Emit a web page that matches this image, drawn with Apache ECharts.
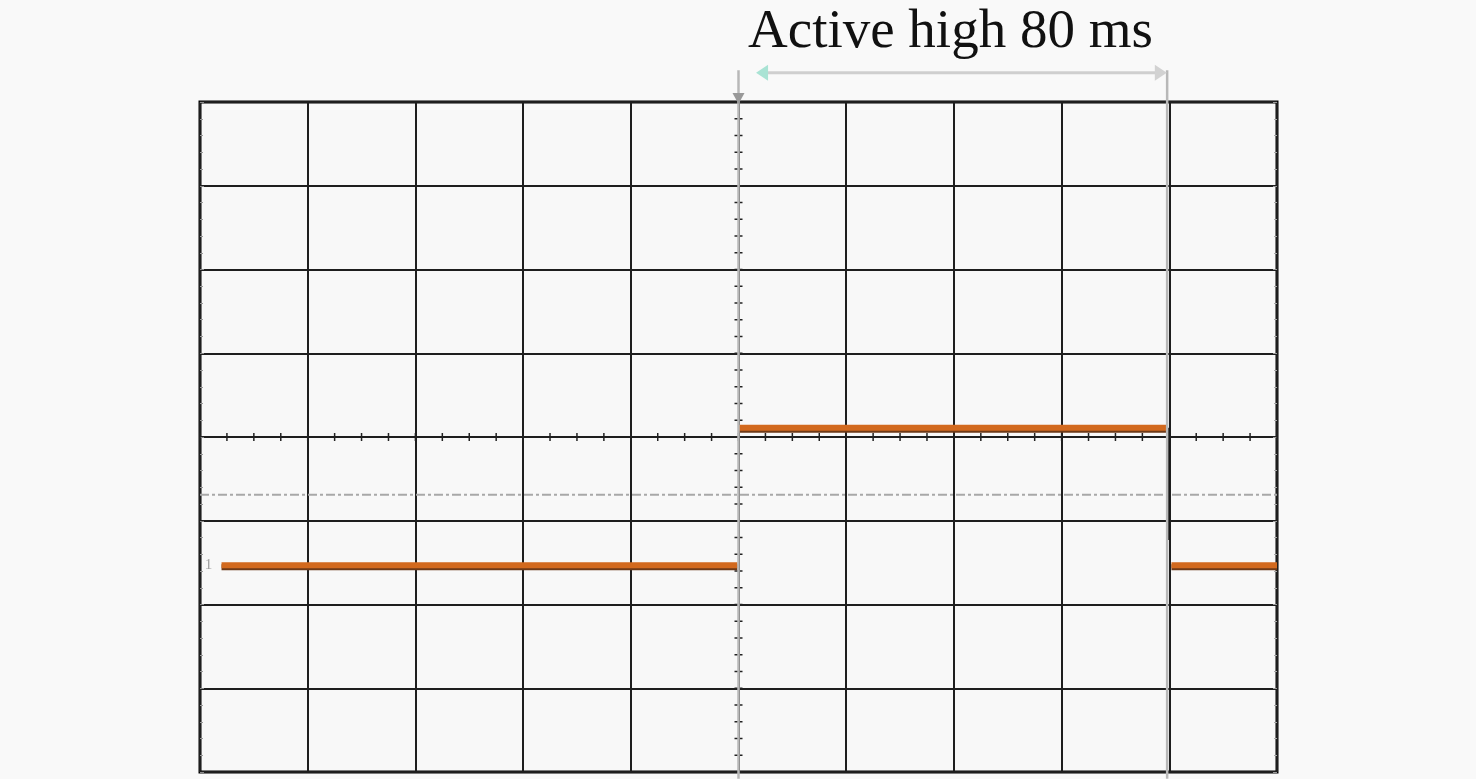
<!DOCTYPE html>
<html>
<head>
<meta charset="utf-8">
<script src="https://cdn.jsdelivr.net/npm/echarts@6/dist/echarts.min.js"></script>
<style>html,body{margin:0;padding:0;background:#f9f9f9;}#c{width:1476px;height:779px;}</style>
</head>
<body>
<div id="c"></div>
<script>
// Axis ranges in divisions (10 horizontal x 8 vertical)
const xRange = [0, 10];
const yRange = [-4, 4];
// Signal levels (divisions)
const lowLevel = -1.53;
const highLevel = 0.11;
const edgeBottom = -1.23;
// Signal segments (x in divisions)
const lowSeg1 = [[0.2, lowLevel], [4.99, lowLevel]];
const highSeg = [[5.0, highLevel], [8.98, highLevel]];
const fallEdge = [[8.99, highLevel], [8.99, edgeBottom]];
const lowSeg2 = [[9.02, lowLevel], [10, lowLevel]];
// Reference (dash-dot) level
const refLevel = -0.69;
// Cursors
const cursorX = [5.0, 8.98];
const cursorTop = 4.38;
const cursorBottom = -4.08;
const arrowY = 4.35;
const arrowSpan = [5.2, 8.94];
const titleText = 'Active high 80 ms';
const channelLabel = '1';

// center graticule minor tick positions
const hTicks = [];
for (let v = xRange[0]; v <= xRange[1] + 1e-9; v += 0.25) hTicks.push([+v.toFixed(2), 0, 0]);
const vTicks = [];
for (let v = yRange[0]; v <= yRange[1] + 1e-9; v += 0.2) vTicks.push([5, +v.toFixed(2), 1]);

const chart = echarts.init(document.getElementById('c'));
const orange = '#d2691e';
const sigStyle = {color: orange, width: 6, shadowColor: '#6e3a18', shadowOffsetY: 2, shadowBlur: 0};

function seg(data, style, z) {
  return {type: 'line', data: data, symbol: 'none', lineStyle: style, z: z || 5, silent: true, animation: false};
}

chart.setOption({
  backgroundColor: '#f9f9f9',
  animation: false,
  title: {
    text: titleText, left: 743, top: 0,
    textStyle: {fontFamily: 'Liberation Serif', fontSize: 55, fontWeight: 'normal', color: '#111'}
  },
  grid: {left: 200, right: 199, top: 102, bottom: 7, show: true, borderColor: '#000', borderWidth: 3, backgroundColor: '#f8f8f8'},
  xAxis: [{
    type: 'value', min: xRange[0], max: xRange[1], interval: 1,
    axisLine: {show: false}, axisLabel: {show: false},
    axisTick: {show: false},
    splitLine: {show: true, lineStyle: {color: '#1e1e1e', width: 2}}
  }],
  yAxis: [{
    type: 'value', min: yRange[0], max: yRange[1], interval: 1, position: 'left',
    axisLine: {show: false}, axisLabel: {show: false},
    axisTick: {show: true, inside: true, length: 4, lineStyle: {color: '#888'}},
    minorTick: {show: true, splitNumber: 5, length: 3, lineStyle: {color: '#999'}},
    splitLine: {show: true, lineStyle: {color: '#1e1e1e', width: 2}}
  }, {
    type: 'value', min: yRange[0], max: yRange[1], interval: 1, position: 'right',
    axisLine: {show: false}, axisLabel: {show: false},
    axisTick: {show: true, inside: true, length: 4, lineStyle: {color: '#999'}},
    minorTick: {show: true, splitNumber: 5, length: 3, lineStyle: {color: '#aaa'}},
    splitLine: {show: false}
  }],
  series: [
    // reference dash-dot line
    {type: 'line', data: [[xRange[0], refLevel], [xRange[1], refLevel]], symbol: 'none', silent: true,
     lineStyle: {color: '#a8a8a8', width: 2, type: [9, 3, 3, 3]}, z: 2},
    // center graticule ticks
    {type: 'custom', data: hTicks.concat(vTicks), z: 3, silent: true,
     renderItem: function (params, api) {
       const p = api.coord([api.value(0), api.value(1)]);
       const d = api.value(2);
       const shape = d === 0 ? {x1: p[0], y1: p[1] - 4, x2: p[0], y2: p[1] + 4}
                              : {x1: p[0] - 4, y1: p[1], x2: p[0] + 4, y2: p[1]};
       return {type: 'line', shape: shape, style: {stroke: '#222', lineWidth: 1.5}};
     }},
    // signal
    seg(lowSeg1, sigStyle, 6),
    seg(highSeg, sigStyle, 6),
    seg(lowSeg2, sigStyle, 6),
    seg(fallEdge, {color: '#111', width: 2}, 6),
    // channel label
    {type: 'scatter', data: [[0.08, lowLevel]], symbolSize: 0, silent: true, z: 7,
     label: {show: true, formatter: channelLabel, position: 'inside', color: '#888', fontSize: 15, fontFamily: 'Liberation Serif'}},
    // cursors
    {type: 'custom', data: cursorX.map((x, i) => [x, i]), clip: false, z: 8, silent: true,
     renderItem: function (params, api) {
       const x = api.value(0);
       const top = api.coord([x, cursorTop]);
       const bot = api.coord([x, cursorBottom]);
       const children = [{type: 'line', shape: {x1: top[0], y1: top[1], x2: bot[0], y2: bot[1]},
                          style: {stroke: '#b8b8b8', lineWidth: 2.5}}];
       if (api.value(1) === 0) {
         const g = api.coord([x, yRange[1]]);
         children.push({type: 'polygon', shape: {points: [[g[0] - 6, g[1] - 9], [g[0] + 6, g[1] - 9], [g[0], g[1] + 2]]},
                        style: {fill: '#999'}});
       }
       return {type: 'group', children: children};
     }},
    // measurement arrow
    {type: 'custom', data: [[arrowSpan[0], arrowSpan[1], arrowY]], clip: false, z: 8, silent: true,
     renderItem: function (params, api) {
       const a = api.coord([api.value(0), api.value(2)]);
       const b = api.coord([api.value(1), api.value(2)]);
       return {type: 'group', children: [
         {type: 'line', shape: {x1: a[0], y1: a[1], x2: b[0], y2: b[1]}, style: {stroke: '#cfcfcf', lineWidth: 3}},
         {type: 'polygon', shape: {points: [[a[0] - 4, a[1]], [a[0] + 8, a[1] - 8], [a[0] + 8, a[1] + 8]]}, style: {fill: '#a9e3d4'}},
         {type: 'polygon', shape: {points: [[b[0] + 4, b[1]], [b[0] - 8, b[1] - 8], [b[0] - 8, b[1] + 8]]}, style: {fill: '#d2d2d2'}}
       ]};
     }}
  ]
});
</script>
</body>
</html>
